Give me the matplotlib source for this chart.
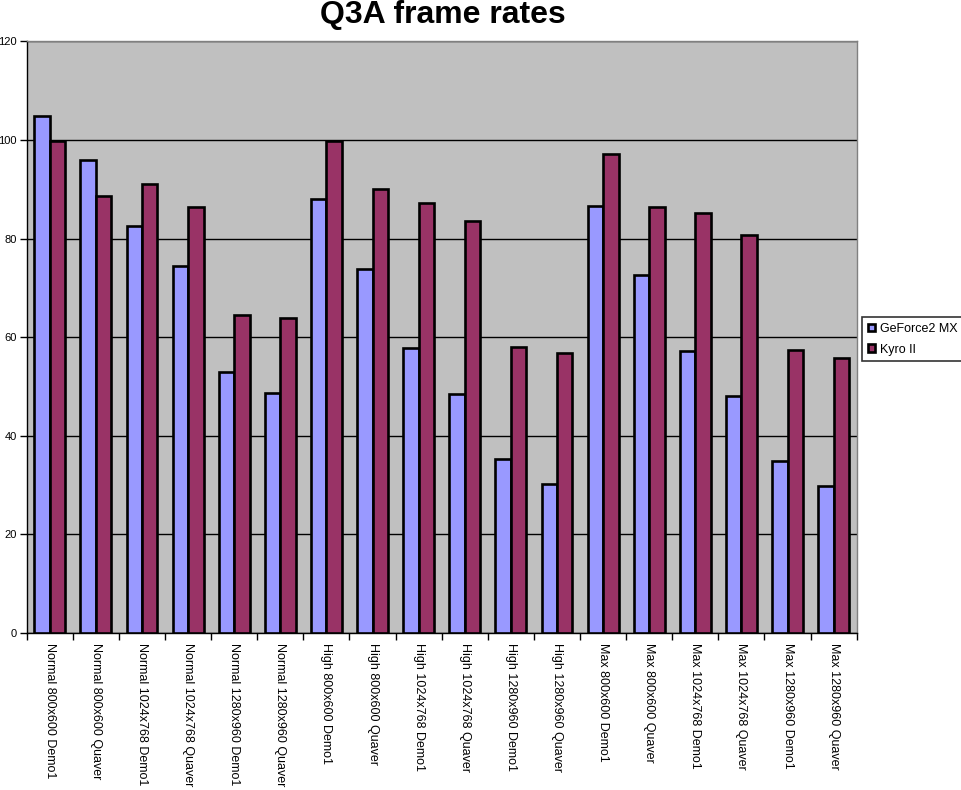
import matplotlib
matplotlib.use("Agg")
import matplotlib.pyplot as plt
import numpy as np
from matplotlib.patches import Patch

plt.rcParams['font.family'] = ['Liberation Sans', 'DejaVu Sans']

categories = [
    "Normal 800x600 Demo1", "Normal 800x600 Quaver",
    "Normal 1024x768 Demo1", "Normal 1024x768 Quaver",
    "Normal 1280x960 Demo1", "Normal 1280x960 Quaver",
    "High 800x600 Demo1", "High 800x600 Quaver",
    "High 1024x768 Demo1", "High 1024x768 Quaver",
    "High 1280x960 Demo1", "High 1280x960 Quaver",
    "Max 800x600 Demo1", "Max 800x600 Quaver",
    "Max 1024x768 Demo1", "Max 1024x768 Quaver",
    "Max 1280x960 Demo1", "Max 1280x960 Quaver",
]
geforce2_mx = [104.9, 95.9, 82.5, 74.4, 53.0, 48.7,
               88.0, 73.8, 57.8, 48.5, 35.3, 30.3,
               86.5, 72.6, 57.1, 48.1, 34.9, 29.8]
kyro_ii = [99.8, 88.7, 91.0, 86.4, 64.5, 63.8,
           99.8, 90.0, 87.2, 83.6, 58.1, 56.7,
           97.2, 86.3, 85.1, 80.8, 57.4, 55.8]
series_names = ["GeForce2 MX", "Kyro II"]
y_ticks = [0, 20, 40, 60, 80, 100, 120]

W, H = 961, 790
fig = plt.figure(figsize=(W / 100, H / 100), dpi=100)
left, right, top, bottom = 26.7, 856.7, 41.3, 633.0
ax = fig.add_axes([left / W, 1 - bottom / H, (right - left) / W, (bottom - top) / H])
ax.set_facecolor("#C0C0C0")

x = np.arange(len(categories))
bw = 0.335
ax.bar(x + 0.5 - bw / 2, geforce2_mx, width=bw, color="#9999FF",
       edgecolor="black", linewidth=1.9, zorder=3)
ax.bar(x + 0.5 + bw / 2, kyro_ii, width=bw, color="#993366",
       edgecolor="black", linewidth=1.9, zorder=3)

ax.set_xlim(0, len(categories))
ax.set_ylim(0, 120)
ax.set_yticks(y_ticks)
ax.set_yticklabels([str(v) for v in y_ticks], fontsize=8)
ax.yaxis.grid(True, color="black", linewidth=1.0, zorder=1)
ax.set_axisbelow(True)

ax.set_xticks(np.arange(len(categories) + 1))
ax.set_xticklabels([])
ax.set_xticks(x + 0.5, minor=True)
ax.set_xticklabels(categories, minor=True, rotation=270, fontsize=9,
                   va="top", ha="center")
ax.tick_params(axis="x", which="minor", length=0, pad=7)
ax.tick_params(axis="x", which="major", direction="out", length=5, width=1, color="black")
ax.tick_params(axis="y", direction="out", length=5, width=1, color="black", pad=2)

for s in ["top", "right"]:
    ax.spines[s].set_color("#808080")
    ax.spines[s].set_linewidth(1)
for s in ["left", "bottom"]:
    ax.spines[s].set_color("black")
    ax.spines[s].set_linewidth(1)

fig.text((left + right) / 2 / W + 0.001, 1 - 15 / H, "Q3A frame rates", ha="center", va="center",
         fontsize=23, fontweight="bold")

handles = [Patch(facecolor="#9999FF", edgecolor="black", linewidth=1.9),
           Patch(facecolor="#993366", edgecolor="black", linewidth=1.9)]
leg = fig.legend(handles, series_names, loc="upper left",
                 bbox_to_anchor=(862.3 / W, 1 - 317.3 / H), fontsize=9,
                 frameon=True, fancybox=False, edgecolor="black",
                 handlelength=0.6, handleheight=0.6, handletextpad=0.35,
                 borderpad=0.45, labelspacing=0.7, borderaxespad=0)
leg.get_frame().set_linewidth(1.2)

fig.savefig("out.png", dpi=100)
